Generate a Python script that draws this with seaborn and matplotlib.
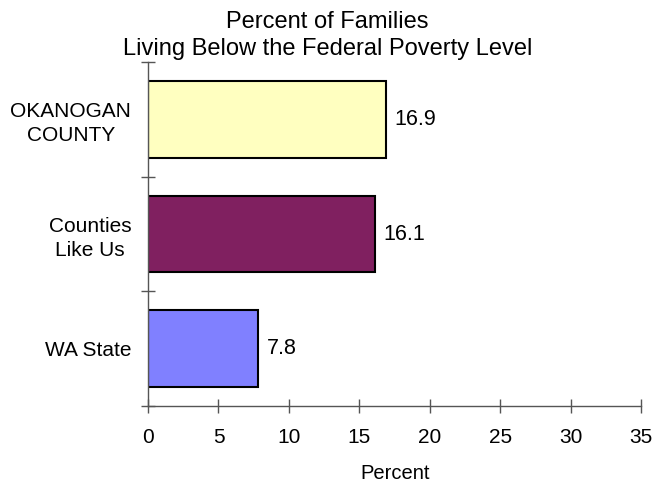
import matplotlib
matplotlib.use("Agg")
import matplotlib.pyplot as plt
import seaborn as sns
import pandas as pd

# Data
regions = ['OKANOGAN\nCOUNTY', 'Counties\nLike Us', 'WA State']
percent = [16.9, 16.1, 7.8]
bar_colors = ['#FFFFC0', '#802060', '#8080FF']

df = pd.DataFrame({'Region': regions, 'Percent': percent})

sns.set_style('white')
plt.rcParams['font.family'] = ['Liberation Sans', 'DejaVu Sans']
plt.rcParams['text.color'] = 'black'
plt.rcParams['axes.labelcolor'] = 'black'
plt.rcParams['xtick.color'] = 'black'
plt.rcParams['ytick.color'] = 'black'

fig = plt.figure(figsize=(6.55, 4.83), dpi=100)
ax = fig.add_axes([0.226, 0.159, 0.753, 0.713])

sns.barplot(data=df, x='Percent', y='Region', hue='Region', palette=bar_colors,
            orient='h', width=0.67, edgecolor='black', linewidth=1.5,
            legend=False, ax=ax, saturation=1)

# value labels
for i, v in enumerate(percent):
    ax.text(v + 0.6, i, f'{v}', va='center', ha='left', fontsize=15.5)

ax.set_xlim(0, 35)
ax.set_ylim(2.5, -0.5)
ax.set_xticks(range(0, 36, 5))
ax.set_xlabel('Percent', fontsize=14.5, labelpad=12)
ax.set_ylabel('')

# y ticks between categories, labels centred on bars
ax.set_yticks([0, 1, 2])
ax.set_yticklabels(regions, fontsize=15, multialignment='center', linespacing=1.3)
ax.set_yticks([-0.5, 0.5, 1.5, 2.5], minor=True)
ax.tick_params(axis='y', which='major', left=False, length=0, pad=12)
ax.tick_params(axis='y', which='minor', left=True, length=10, direction='inout',
               width=1, color='#555555')
ax.tick_params(axis='x', which='major', bottom=True, length=10, direction='inout',
               width=1, color='#555555', labelcolor='black', labelsize=15, pad=11)

for side in ['top', 'right']:
    ax.spines[side].set_visible(False)
for side in ['left', 'bottom']:
    ax.spines[side].set_color('#555555')
    ax.spines[side].set_linewidth(1)

fig.suptitle('Percent of Families\nLiving Below the Federal Poverty Level',
             fontsize=17, y=0.978, linespacing=1.3)

fig.savefig('out.png', dpi=100)
